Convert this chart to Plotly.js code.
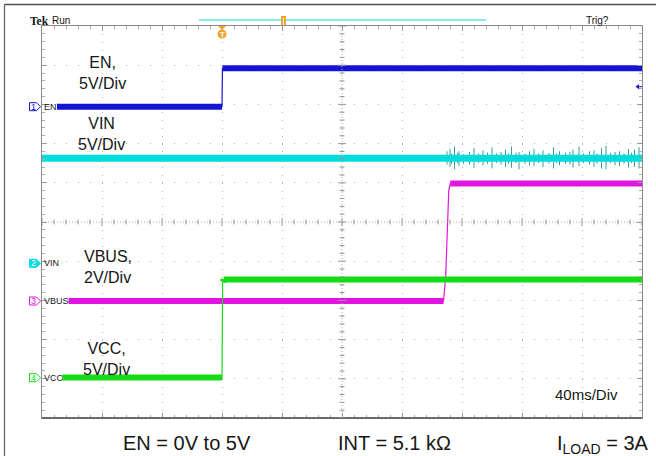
<!DOCTYPE html>
<html><head><meta charset="utf-8">
<script src="https://cdn.plot.ly/plotly-3.0.1.min.js"></script>
<style>html,body{margin:0;padding:0;background:#fff;} #chart{width:656px;height:456px;}</style>
</head><body><div id="chart"></div>
<script>
// Time in ms (40 ms/div, trigger at 0 ms); values in volts
const enTime   = [-110, 0, 0.3, 280];
const enVolts  = [0, 0, 4.9, 4.9];
const vinTime  = [-120, 280];
const vinVolts = [13.4, 13.4];
const vccTime  = [-106.5, 0, 0.4, 1.2, 280];
const vccVolts = [0, 0, 12.2, 12.5, 12.5];
const vbusTime  = [-102.3, 147.7, 149.1, 150.3, 151.2, 152.2, 280];
const vbusVolts = [0, 0, 1.24, 4.13, 5.66, 6.0, 6.0];
const vinSpikeTime = [150, 152, 153, 155, 157, 158, 161, 165, 168, 171, 174, 177, 180, 183, 186, 189, 191, 193, 196, 198, 202, 205, 208, 211, 214, 218, 221, 223, 225, 229, 232, 234, 238, 241, 245, 248, 250, 253, 256, 259, 262, 265, 268, 271, 273, 275, 278];
const vinSpikeHigh = [14.3, 14.6, 14.0, 14.9, 14.1, 14.3, 13.9, 14.2, 14.7, 14.0, 14.4, 14.1, 14.8, 14.0, 14.2, 14.5, 14.0, 14.9, 14.1, 14.2, 14.0, 14.3, 14.6, 14.0, 14.4, 14.1, 14.8, 14.0, 14.3, 14.1, 14.2, 14.5, 14.9, 14.0, 14.3, 14.4, 14.0, 14.7, 15.0, 14.1, 14.2, 14.3, 14.0, 14.6, 14.1, 14.5, 14.8];
const vinSpikeLow  = [12.6, 12.3, 12.7, 12.0, 12.8, 12.4, 12.7, 12.6, 12.2, 12.8, 12.5, 12.7, 12.1, 12.8, 12.6, 12.3, 12.7, 12.2, 12.8, 12.0, 12.7, 12.5, 12.4, 12.8, 12.3, 12.7, 12.1, 12.8, 12.5, 12.7, 12.6, 12.2, 12.4, 12.8, 12.6, 12.3, 12.7, 12.1, 12.0, 12.8, 12.5, 12.4, 12.7, 12.2, 12.8, 12.3, 12.1];
const channelNames = ['EN', 'VIN', 'VBUS', 'VCC'];
const channelScale = ['EN,<br>5V/Div', 'VIN<br>5V/Div', 'VBUS,<br>2V/Div', 'VCC,<br>5V/Div'];
const bottomLabels = ['EN = 0V to 5V', 'INT = 5.1 kΩ', 'I<sub>LOAD</sub> = 3A'];
const timebaseLabel = '40ms/Div';

// ---- layout helpers (pixel -> paper) ----
const L = 42, T = 26, W = 600, H = 392;
const PX = x => (x - L) / W;
const PY = y => (T + H - y) / H;
const FONT = 'Liberation Sans, Arial, sans-serif';

// channel settings: volts/div and ground offset (divisions from centre)
const ch = {
  EN:   {vdiv: 5, off: 2.94,  color: '#1414d6', axis: 'y2'},
  VIN:  {vdiv: 5, off: -1.054, color: '#00dcdc', axis: 'y3'},
  VBUS: {vdiv: 2, off: -2.015, color: '#e214e2', axis: 'y4'},
  VCC:  {vdiv: 5, off: -3.97,  color: '#14dc14', axis: 'y5'}
};
const rng = c => [(-5 - c.off) * c.vdiv, (5 - c.off) * c.vdiv];

// thick band only on flat segments, thin line on transitions
function levelSegments(t, v, vdiv) {
  const x = [], y = [];
  for (let i = 0; i < t.length - 1; i++) {
    if (Math.abs(v[i + 1] - v[i]) < 0.1 * vdiv) { x.push(t[i], t[i + 1], null); y.push(v[i], v[i + 1], null); }
  }
  return {x, y};
}
const traces = [];
function addChannel(name, t, v, width) {
  const c = ch[name];
  traces.push({x: t, y: v, yaxis: c.axis, mode: 'lines', line: {color: c.color, width: 1.2}, hoverinfo: 'skip'});
  const s = levelSegments(t, v, c.vdiv);
  traces.push({x: s.x, y: s.y, yaxis: c.axis, mode: 'lines', connectgaps: false, line: {color: c.color, width}, hoverinfo: 'skip'});
}
addChannel('EN', enTime, enVolts, 6);
const spikeX = [], spikeY = [];
vinSpikeTime.forEach((t, i) => { spikeX.push(t, t, null); spikeY.push(vinSpikeLow[i], vinSpikeHigh[i], null); });
traces.push({x: spikeX, y: spikeY, yaxis: 'y3', mode: 'lines', line: {color: '#3a9e9e', width: 1}, hoverinfo: 'skip', connectgaps: false});
addChannel('VIN', vinTime, vinVolts, 7);
addChannel('VCC', vccTime, vccVolts, 6);
addChannel('VBUS', vbusTime, vbusVolts, 6);

const shapes = [];
const ln = (x0, y0, x1, y1, color, width, dash) => shapes.push({type: 'line', xref: 'paper', yref: 'paper',
  x0: PX(x0), y0: PY(y0), x1: PX(x1), y1: PY(y1), line: {color, width, dash: dash || 'solid'}});
// outer frame
ln(4.5, 4.5, 656, 4.5, '#505050', 1.6);
ln(4.5, 4.5, 4.5, 456, '#606060', 1.2);
// bottom border thicker
ln(42, 418, 642, 418, '#6a6a6a', 2);
// centre crosshair
shapes.push({type: 'line', xref: 'x', yref: 'paper', x0: 80, x1: 80, y0: 0, y1: 1, line: {color: '#a8a8a8', width: 1, dash: '1px,2px'}});
shapes.push({type: 'line', xref: 'paper', yref: 'y', x0: 0, x1: 1, y0: 0, y1: 0, line: {color: '#a8a8a8', width: 1, dash: '1px,2px'}});
for (let k = 0; k <= 50; k++) {
  const t = -120 + k * 8, major = k % 5 === 0, h = major ? 4 : 2.5;
  shapes.push({type: 'line', xref: 'x', yref: 'y', ysizemode: 'pixel', yanchor: 0, x0: t, x1: t, y0: -h, y1: h, line: {color: '#999', width: 1}});
  const v = -5 + k * 0.2;
  shapes.push({type: 'line', xref: 'x', yref: 'y', xsizemode: 'pixel', xanchor: 80, y0: v, y1: v, x0: -h, x1: h, line: {color: '#999', width: 1}});
}
// trigger position bar
ln(199, 20, 486, 20, '#5ae6e6', 1.5);
shapes.push({type: 'rect', xref: 'paper', yref: 'paper', x0: PX(281), x1: PX(286), y0: PY(16), y1: PY(25), fillcolor: '#f0a22e', line: {width: 0}});
ln(283.5, 18, 283.5, 25, '#ffffff', 1);
// orange trigger T marker
shapes.push({type: 'path', xref: 'paper', yref: 'paper', fillcolor: '#f0a22e', line: {width: 0},
  path: `M${PX(218)},${PY(26)} L${PX(226)},${PY(26)} L${PX(222)},${PY(30)} Z`});
shapes.push({type: 'circle', xref: 'paper', yref: 'paper', fillcolor: '#f0a22e', line: {width: 0},
  x0: PX(217.5), x1: PX(226.5), y0: PY(29.5), y1: PY(38.5)});
// blue trigger level arrow
shapes.push({type: 'path', xref: 'paper', yref: 'paper', fillcolor: ch.EN.color, line: {width: 0},
  path: `M${PX(635.5)},${PY(86.7)} L${PX(639)},${PY(84.2)} L${PX(639)},${PY(89.2)} Z`});
ln(639, 86.7, 642, 86.7, ch.EN.color, 1);
// channel ground markers
const markerY = [106.7, 263.3, 301, 377.7];
const markerFill = [false, true, false, false];
channelNames.forEach((n, i) => {
  const c = markerY[i], col = ch[n].color;
  shapes.push({type: 'path', xref: 'paper', yref: 'paper', fillcolor: markerFill[i] ? col : 'rgba(255,255,255,0)',
    line: {color: col, width: 1},
    path: `M${PX(29.5)},${PY(c - 4)} L${PX(36.5)},${PY(c - 4)} L${PX(40.5)},${PY(c)} L${PX(36.5)},${PY(c + 4)} L${PX(29.5)},${PY(c + 4)} Z`});
});

const ann = [];
const txt = (text, x, y, size, opts) => ann.push(Object.assign({text, x: PX(x), y: PY(y), xref: 'paper', yref: 'paper',
  showarrow: false, xanchor: 'center', yanchor: 'middle', borderpad: 0, font: {family: FONT, size, color: '#161616'}}, opts || {}));
txt('<b>Tek</b>', 28.5, 20.5, 11.5, {xanchor: 'left', font: {family: 'Liberation Serif, serif', size: 11.5, color: '#161616'}});
txt('Run', 50.5, 20.5, 10, {xanchor: 'left'});
txt('Trig?', 597, 20.7, 10);
txt('<b>T</b>', 222, 34, 8, {font: {family: FONT, size: 8, color: '#ffffff'}});
channelNames.forEach((n, i) => {
  txt(String(i + 1), 33.2, markerY[i], 9, {font: {family: FONT, size: 9, color: markerFill[i] ? '#ffffff' : ch[n].color}});
  txt(n, 43.3, markerY[i], 9, {xanchor: 'left'});
});
const scalePos = [[102.5, 73, 'center'], [101.7, 134, 'center'], [82.5, 266.5, 'left'], [106.5, 358.5, 'center']];
channelScale.forEach((s, i) => txt(s, scalePos[i][0], scalePos[i][1], 16, {xanchor: scalePos[i][2], align: scalePos[i][2]}));
txt(timebaseLabel, 586.5, 394.3, 15);
txt(bottomLabels[0], 186.7, 442.7, 20);
txt(bottomLabels[1], 394.8, 442.7, 20);
txt(bottomLabels[2], 556, 444, 20, {xanchor: 'left'});

const ovl = c => ({overlaying: 'y', range: rng(c), visible: false, fixedrange: true});
const layout = {
  width: 656, height: 456, paper_bgcolor: '#ffffff', plot_bgcolor: '#ffffff',
  margin: {l: L, r: 656 - L - W, t: T, b: 456 - T - H, pad: 0},
  showlegend: false,
  xaxis: {range: [-120, 280], tick0: -120, dtick: 40, showticklabels: false, ticks: 'inside', ticklen: 5, tickcolor: '#999',
    showgrid: true, gridcolor: '#b4b4b4', griddash: '1px,6.84px', gridwidth: 1, zeroline: false,
    showline: true, linecolor: '#8a8a8a', linewidth: 1, mirror: 'ticks', fixedrange: true,
    minor: {dtick: 8, ticks: 'inside', ticklen: 3, tickcolor: '#aaa', showgrid: false}},
  yaxis: {range: [-5, 5], tick0: 0, dtick: 1, showticklabels: false, ticks: 'inside', ticklen: 5, tickcolor: '#999',
    showgrid: true, gridcolor: '#b4b4b4', griddash: '1px,11px', gridwidth: 1, zeroline: false,
    showline: true, linecolor: '#8a8a8a', linewidth: 1, mirror: 'ticks', fixedrange: true,
    minor: {dtick: 0.2, ticks: 'inside', ticklen: 3, tickcolor: '#aaa', showgrid: false}},
  yaxis2: ovl(ch.EN), yaxis3: ovl(ch.VIN), yaxis4: ovl(ch.VBUS), yaxis5: ovl(ch.VCC),
  shapes, annotations: ann
};
Plotly.newPlot('chart', traces, layout, {staticPlot: true, displayModeBar: false});
</script></body></html>
